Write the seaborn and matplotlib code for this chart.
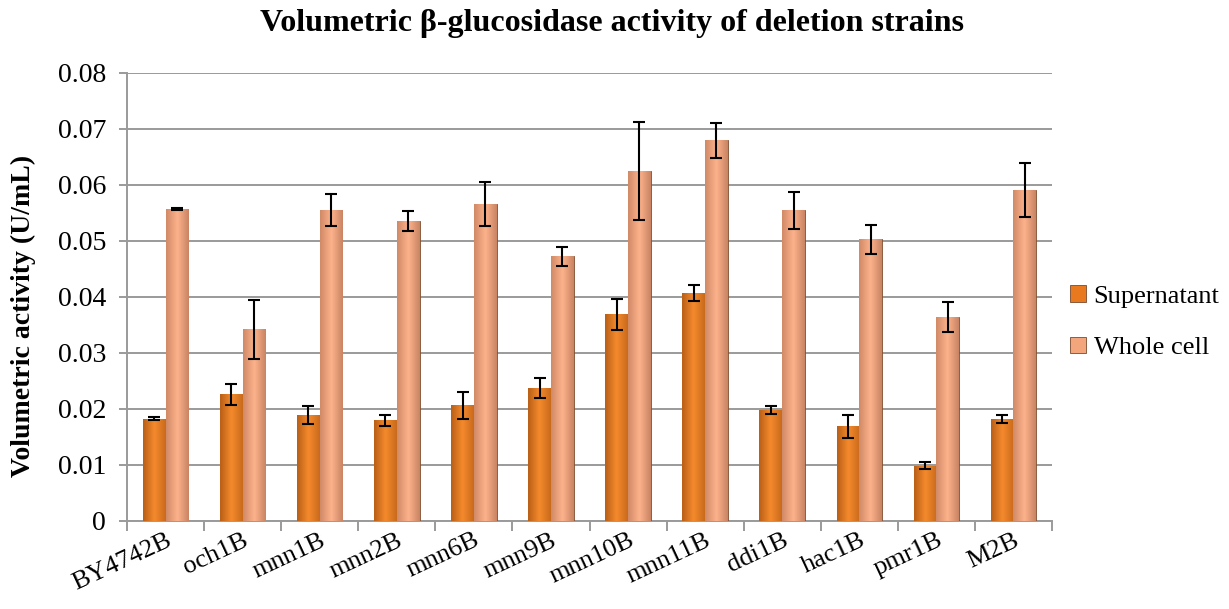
import numpy as np
import pandas as pd
import matplotlib
matplotlib.use('Agg')
import matplotlib.pyplot as plt
import matplotlib.transforms as mtransforms
from matplotlib.colors import LinearSegmentedColormap
import seaborn as sns

strains = ['BY4742B', 'och1B', 'mnn1B', 'mnn2B', 'mnn6B', 'mnn9B',
           'mnn10B', 'mnn11B', 'ddi1B', 'hac1B', 'pmr1B', 'M2B']
supernatant = [0.0183, 0.0226, 0.0189, 0.0180, 0.0207, 0.0237,
               0.0369, 0.0407, 0.0198, 0.0169, 0.0099, 0.0182]
supernatant_err = [0.0003, 0.0018, 0.0016, 0.0010, 0.0024, 0.0018,
                   0.0028, 0.0015, 0.0007, 0.0021, 0.0007, 0.0007]
whole_cell = [0.0557, 0.0342, 0.0555, 0.0535, 0.0566, 0.0473,
              0.0625, 0.0680, 0.0555, 0.0503, 0.0364, 0.0591]
whole_cell_err = [0.0002, 0.0052, 0.0029, 0.0018, 0.0039, 0.0017,
                  0.0088, 0.0031, 0.0033, 0.0026, 0.0027, 0.0049]
series = ['Supernatant', 'Whole cell']
colors = ['#E9791F', '#F3A57B']
# edge / centre shades for the bevelled look
shades = [['#B95F17', '#F58A2C', '#C96A1C'],
          ['#D08A66', '#FDB38C', '#C98463']]

df = pd.DataFrame({
    'strain': strains * 2,
    'activity': supernatant + whole_cell,
    'err': supernatant_err + whole_cell_err,
    'sample': [series[0]] * len(strains) + [series[1]] * len(strains),
})

sns.set_style('white')
plt.rcParams['font.family'] = ['Liberation Serif', 'DejaVu Serif']
plt.rcParams['text.color'] = 'black'
plt.rcParams['axes.labelcolor'] = 'black'

fig = plt.figure(figsize=(12.29, 6.09), dpi=100)
ax = fig.add_axes([127 / 1229, 1 - 521 / 609, 925 / 1229, 448 / 609])

sns.barplot(data=df, x='strain', y='activity', hue='sample', palette=colors,
            saturation=1, width=0.59, errorbar=None, edgecolor='#7a4a30',
            linewidth=0.6, ax=ax, zorder=3)

ax.set_ylim(0, 0.08)
ax.set_xlim(-0.5, len(strains) - 0.5)

# horizontal shading inside each bar
grad = np.linspace(0, 1, 64).reshape(1, -1)
for container, shade in zip(ax.containers, shades):
    cmap = LinearSegmentedColormap.from_list('bar', shade)
    for p in container:
        x0, w, h = p.get_x(), p.get_width(), p.get_height()
        im = ax.imshow(grad, cmap=cmap, aspect='auto', extent=[x0, x0 + w, 0, h],
                       zorder=3.05, interpolation='bicubic')
        im.set_clip_path(p)

# error bars on top of the bars seaborn drew
for container, name in zip(ax.containers, series):
    errs = df.loc[df['sample'] == name, 'err'].values
    xs = [p.get_x() + p.get_width() / 2 for p in container]
    ys = [p.get_height() for p in container]
    ax.errorbar(xs, ys, yerr=errs, fmt='none', ecolor='black',
                elinewidth=1.5, capsize=4.5, capthick=1.5, zorder=4)

ax.set_ylim(0, 0.08)
ax.set_xlim(-0.5, len(strains) - 0.5)
ax.set_aspect('auto')
ax.set_yticks(np.arange(0, 0.081, 0.01))
ax.set_yticklabels(['0'] + ['%.2f' % v for v in np.arange(0.01, 0.081, 0.01)],
                   fontsize=20)
ax.yaxis.grid(True, color='#9a9a9a', linewidth=1.4, zorder=0)
ax.set_axisbelow(True)
ax.tick_params(axis='y', length=6, width=1.4, color='#9a9a9a', left=True, pad=9,
               labelcolor='black')

ax.set_xticks(np.arange(len(strains)))
ax.set_xticklabels(strains, fontsize=19, rotation=25, ha='right', va='top',
                   rotation_mode='anchor')
offset = mtransforms.ScaledTranslation(0.03, -0.22, fig.dpi_scale_trans)
for lbl in ax.get_xticklabels():
    lbl.set_transform(lbl.get_transform() + offset)
ax.tick_params(axis='x', length=0, pad=6, labelcolor='black')
# tick marks between categories
ax.set_xticks(np.arange(-0.5, len(strains)), minor=True)
ax.tick_params(axis='x', which='minor', length=7, width=1.4, color='#9a9a9a',
               bottom=True)

for side in ['top', 'right']:
    ax.spines[side].set_visible(False)
for side in ['left', 'bottom']:
    ax.spines[side].set_color('#9a9a9a')
    ax.spines[side].set_linewidth(1.4)

ax.set_xlabel('')
ax.set_ylabel('Volumetric activity (U/mL)', fontsize=20, fontweight='bold')
ax.yaxis.set_label_coords(-0.098, 0.458)
fig.suptitle('Volumetric \u03b2-glucosidase activity of deletion strains',
             fontsize=23, fontweight='bold', x=0.498, y=0.985)

leg = ax.legend(loc='center left', bbox_to_anchor=(1.005, 0.444), frameon=False,
                fontsize=19, handlelength=0.6, handleheight=0.6,
                handletextpad=0.3, labelspacing=1.1, borderaxespad=0.1)
for t in leg.get_texts():
    t.set_color('black')

fig.savefig('out.png', dpi=100)
